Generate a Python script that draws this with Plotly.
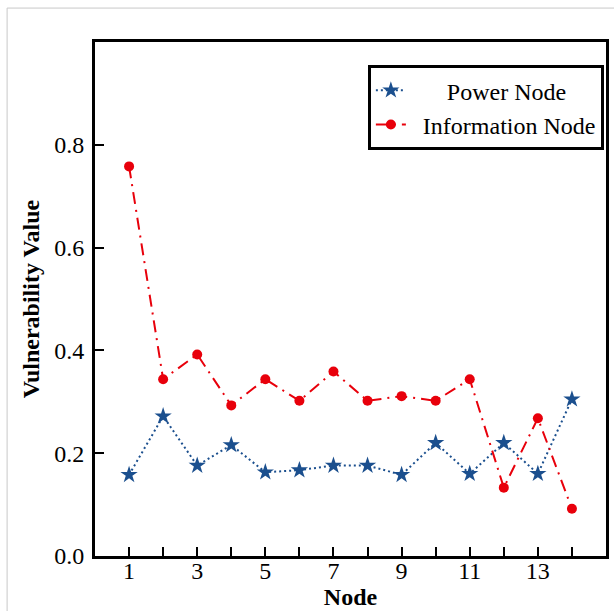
import plotly.graph_objects as go

nodes = list(range(1, 15))
power_node = [0.158, 0.272, 0.176, 0.216, 0.163, 0.167, 0.176, 0.176, 0.158, 0.220, 0.160, 0.220, 0.160, 0.305]
info_node = [0.758, 0.344, 0.392, 0.293, 0.344, 0.302, 0.359, 0.302, 0.311, 0.302, 0.344, 0.133, 0.268, 0.092]
x_ticks = list(range(1, 15))
x_ticktext = [str(v) if v % 2 == 1 else "" for v in x_ticks]
y_ticks = [0.0, 0.2, 0.4, 0.6, 0.8]

FONT = "Liberation Serif, Times New Roman, serif"
FS = 24

fig = go.Figure()
fig.add_trace(go.Scatter(
    x=nodes, y=power_node, name="      Power Node", mode="lines+markers",
    line=dict(color="#1b4f8e", width=2, dash="2px,3px"),
    marker=dict(symbol="star", size=13, color="#1b4f8e"),
))
fig.add_trace(go.Scatter(
    x=nodes, y=info_node, name="  Information Node", mode="lines+markers",
    line=dict(color="#e8000b", width=2, dash="12px,6px,2px,6px"),
    marker=dict(symbol="circle", size=10, color="#e8000b"),
))

fig.update_layout(
    width=614, height=611,
    margin=dict(l=95, r=8, t=42, b=55),
    paper_bgcolor="white", plot_bgcolor="white",
    font=dict(family=FONT, size=FS, color="black"),
    showlegend=True,
    legend=dict(
        x=0.534, y=0.955, xanchor="left", yanchor="top",
        bordercolor="black", borderwidth=3, bgcolor="white",
        font=dict(family=FONT, size=FS, color="black"),
        itemwidth=30, tracegroupgap=0,
    ),
    xaxis=dict(
        range=[0, 15], tickmode="array", tickvals=x_ticks, ticktext=x_ticktext,
        ticks="inside", ticklen=9, tickwidth=2, tickcolor="black",
        showline=True, linewidth=3, linecolor="black", mirror=True,
        showgrid=False, zeroline=False, automargin=False, ticklabelstandoff=-9,
        tickfont=dict(family=FONT, size=FS),
        title=dict(text="<b>Node</b>", font=dict(family=FONT, size=FS), standoff=2),
    ),
    yaxis=dict(
        range=[0, 1.0], tickmode="array", tickvals=y_ticks,
        ticktext=[f"{v:.1f}" for v in y_ticks],
        ticks="inside", ticklen=9, tickwidth=2, tickcolor="black",
        showline=True, linewidth=3, linecolor="black", mirror=True,
        showgrid=False, zeroline=False, ticklabelstandoff=3, automargin=False,
        tickfont=dict(family=FONT, size=FS),
        title=dict(text="<b>Vulnerability Value</b>", font=dict(family=FONT, size=FS), standoff=8),
    ),
    shapes=[dict(
        type="rect", xref="paper", yref="paper",
        x0=-0.172, x1=1.2, y0=-0.3, y1=1.066,
        line=dict(color="#c8c8c8", width=1), layer="below",
    )],
)

fig.write_html("out.html")
